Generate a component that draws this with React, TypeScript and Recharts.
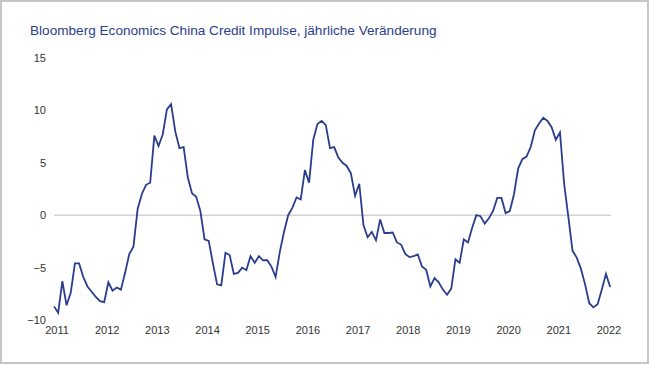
import { LineChart, Line, XAxis, YAxis, ReferenceLine } from 'recharts';

// monthly, Jan 2011 .. Feb 2022
const startYear = 2011;
const impulse = [
  -8.7, -9.3, -6.3, -8.6, -7.4, -4.6, -4.6, -5.9, -6.8, -7.3, -7.8, -8.2,
  -8.3, -6.4, -7.2, -6.9, -7.1, -5.5, -3.7, -3.0, 0.6, 2.0, 2.9, 3.1,
  7.6, 6.6, 7.7, 10.1, 10.6, 8.0, 6.4, 6.5, 3.6, 2.1, 1.75, 0.4,
  -2.3, -2.45, -4.6, -6.6, -6.7, -3.6, -3.8, -5.6, -5.5, -5.0, -5.25, -3.9,
  -4.55, -3.9, -4.3, -4.3, -4.9, -5.9, -3.5, -1.6, 0.0, 0.7, 1.7, 1.5,
  4.3, 3.1, 7.2, 8.7, 9.0, 8.6, 6.4, 6.5, 5.5, 5.0, 4.7, 4.0,
  1.85, 3.0, -0.95, -2.1, -1.6, -2.4, -0.4, -1.7, -1.7, -1.65, -2.6, -2.8,
  -3.7, -4.0, -3.9, -3.75, -4.9, -5.2, -6.8, -6.0, -6.4, -7.1, -7.6, -7.0,
  -4.2, -4.55, -2.3, -2.6, -1.2, 0.0, -0.1, -0.8, -0.3, 0.4, 1.65, 1.65,
  0.2, 0.4, 2.0, 4.45, 5.35, 5.6, 6.5, 8.1, 8.75, 9.3, 9.0, 8.4,
  7.2, 7.9, 3.0, -0.15, -3.4, -4.05, -5.1, -6.6, -8.4, -8.8, -8.5, -7.1,
  -5.6, -6.85,
];
const yearTicks = [2011, 2012, 2013, 2014, 2015, 2016, 2017, 2018, 2019, 2020, 2021, 2022];
const valueTicks = [-10, -5, 0, 5, 10, 15];

const data = impulse.map((v, i) => ({ t: startYear + i / 12, v }));

const font = '"Liberation Sans", Arial, sans-serif';

export default function App() {
  return (
    <div
      style={{
        position: 'absolute',
        left: 0,
        top: 0,
        width: 649,
        height: 364,
        boxSizing: 'border-box',
        border: '2px solid #c6c6c6',
        background: '#fff',
        fontFamily: font,
      }}
    >
      <div
        style={{
          position: 'absolute',
          left: 28,
          top: 21,
          fontSize: 13.6,
          color: '#2b3d8b',
          whiteSpace: 'nowrap',
        }}
      >
        Bloomberg Economics China Credit Impulse, jährliche Veränderung
      </div>
      <div style={{ position: 'absolute', left: -2, top: -2 }}>
        <LineChart
          width={650}
          height={365}
          data={data}
          margin={{ top: 58, right: 39, bottom: 15, left: 0 }}
        >
          <XAxis
            dataKey="t"
            type="number"
            domain={[2011, 2022.1]}
            ticks={yearTicks}
            axisLine={false}
            tickLine={false}
            tickSize={4}
            tickMargin={2}
            height={30}
            dx={3}
            tick={{ fontSize: 11, fill: '#333', fontFamily: font }}
            interval={0}
          />
          <YAxis
            type="number"
            domain={[-10, 15]}
            ticks={valueTicks}
            axisLine={false}
            tickLine={false}
            width={54}
            tick={{ fontSize: 11, fill: '#333', fontFamily: font }}
            tickFormatter={(v: number) => (v < 0 ? `\u2212${Math.abs(v)}` : `${v}`)}
          />
          <ReferenceLine y={0} stroke="#bdbdbd" strokeWidth={1} />
          <Line
            type="linear"
            dataKey="v"
            stroke="#2a3c8e"
            strokeWidth={1.8}
            dot={false}
            isAnimationActive={false}
          />
        </LineChart>
      </div>
    </div>
  );
}
